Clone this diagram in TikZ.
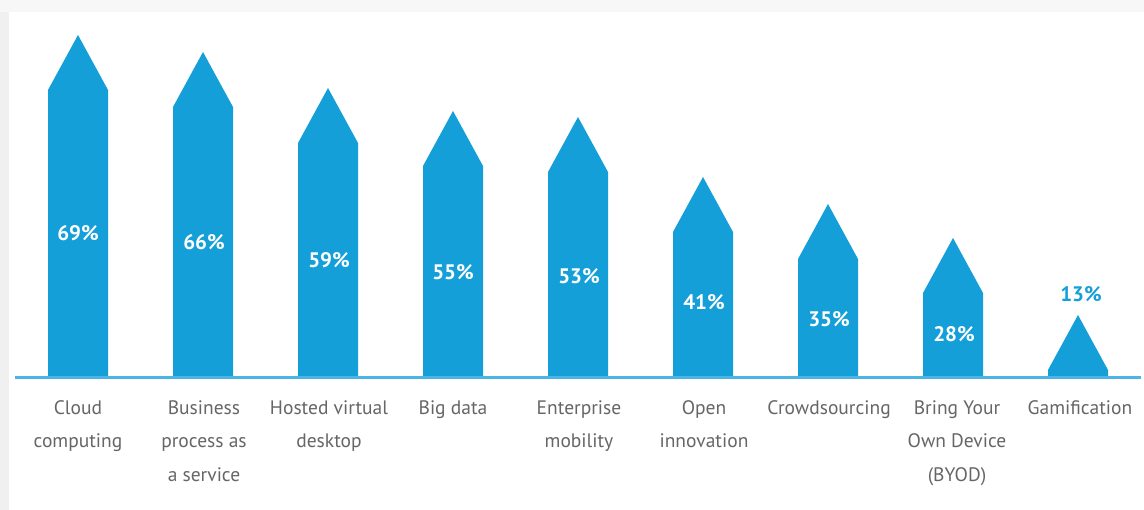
\documentclass[tikz,border=0pt]{standalone}
\usepackage{fontspec}
\setmainfont{PT Sans}
\definecolor{barblue}{HTML}{149FD9}
\definecolor{lineblue}{HTML}{4DB5E6}
\definecolor{labgray}{HTML}{666666}
\tikzset{
  bar/.style={fill=barblue, draw=none},
  pct/.style={text=white, font=\fontsize{21}{24}\selectfont\bfseries, inner sep=0pt},
  cat/.style={text=labgray, font=\fontsize{19.5}{33.5}\selectfont, align=center, inner sep=0pt, anchor=north}
}
\begin{document}
\begin{tikzpicture}[x=1pt,y=-1pt]
\useasboundingbox (0,0) rectangle (1144,510);
\fill[gray!12] (0,0) rectangle (1144,510);
\fill[gray!6] (0,0) rectangle (1144,12);
\fill[white] (9,12) rectangle (1144,510);
% bars: center, apex
\foreach \c/\a in {78/35,203/52,328/88,453/111,578/117,703/177,828/204,953/238,1078/315}{
  \fill[bar] (\c-30,377) -- (\c-30,\a+55) -- (\c,\a) -- (\c+30,\a+55) -- (\c+30,377) -- cycle;
}
\draw[lineblue, line width=2.5pt] (15,377.5) -- (1141,377.5);
% percentages
\node[pct] (p1) at (78,233) {69\%};
\node[pct] (p2) at (204,242) {66\%};
\node[pct] (p3) at (329,260) {59\%};
\node[pct] (p4) at (453,272) {55\%};
\node[pct] (p5) at (579,276) {53\%};
\node[pct] (p6) at (704,302) {41\%};
\node[pct] (p7) at (829,319) {35\%};
\node[pct] (p8) at (954,334) {28\%};
\node[pct, text=barblue] (p9) at (1081,294) {13\%};
% categories
\node[cat] (c1) at (78,400) {Cloud\\computing};
\node[cat] (c2) at (204,400) {Business\\process as\\a service};
\node[cat] (c3) at (329,400) {Hosted virtual\\desktop};
\node[cat] (c4) at (453,400) {Big data};
\node[cat] (c5) at (579,400) {Enterprise\\mobility};
\node[cat] (c6) at (704,400) {Open\\innovation};
\node[cat] (c7) at (829,400) {Crowdsourcing};
\node[cat] (c8) at (957,400) {Bring Your\\Own Device\\(BYOD)};
\node[cat] (c9) at (1080,400) {Gamification};
\end{tikzpicture}
\end{document}
